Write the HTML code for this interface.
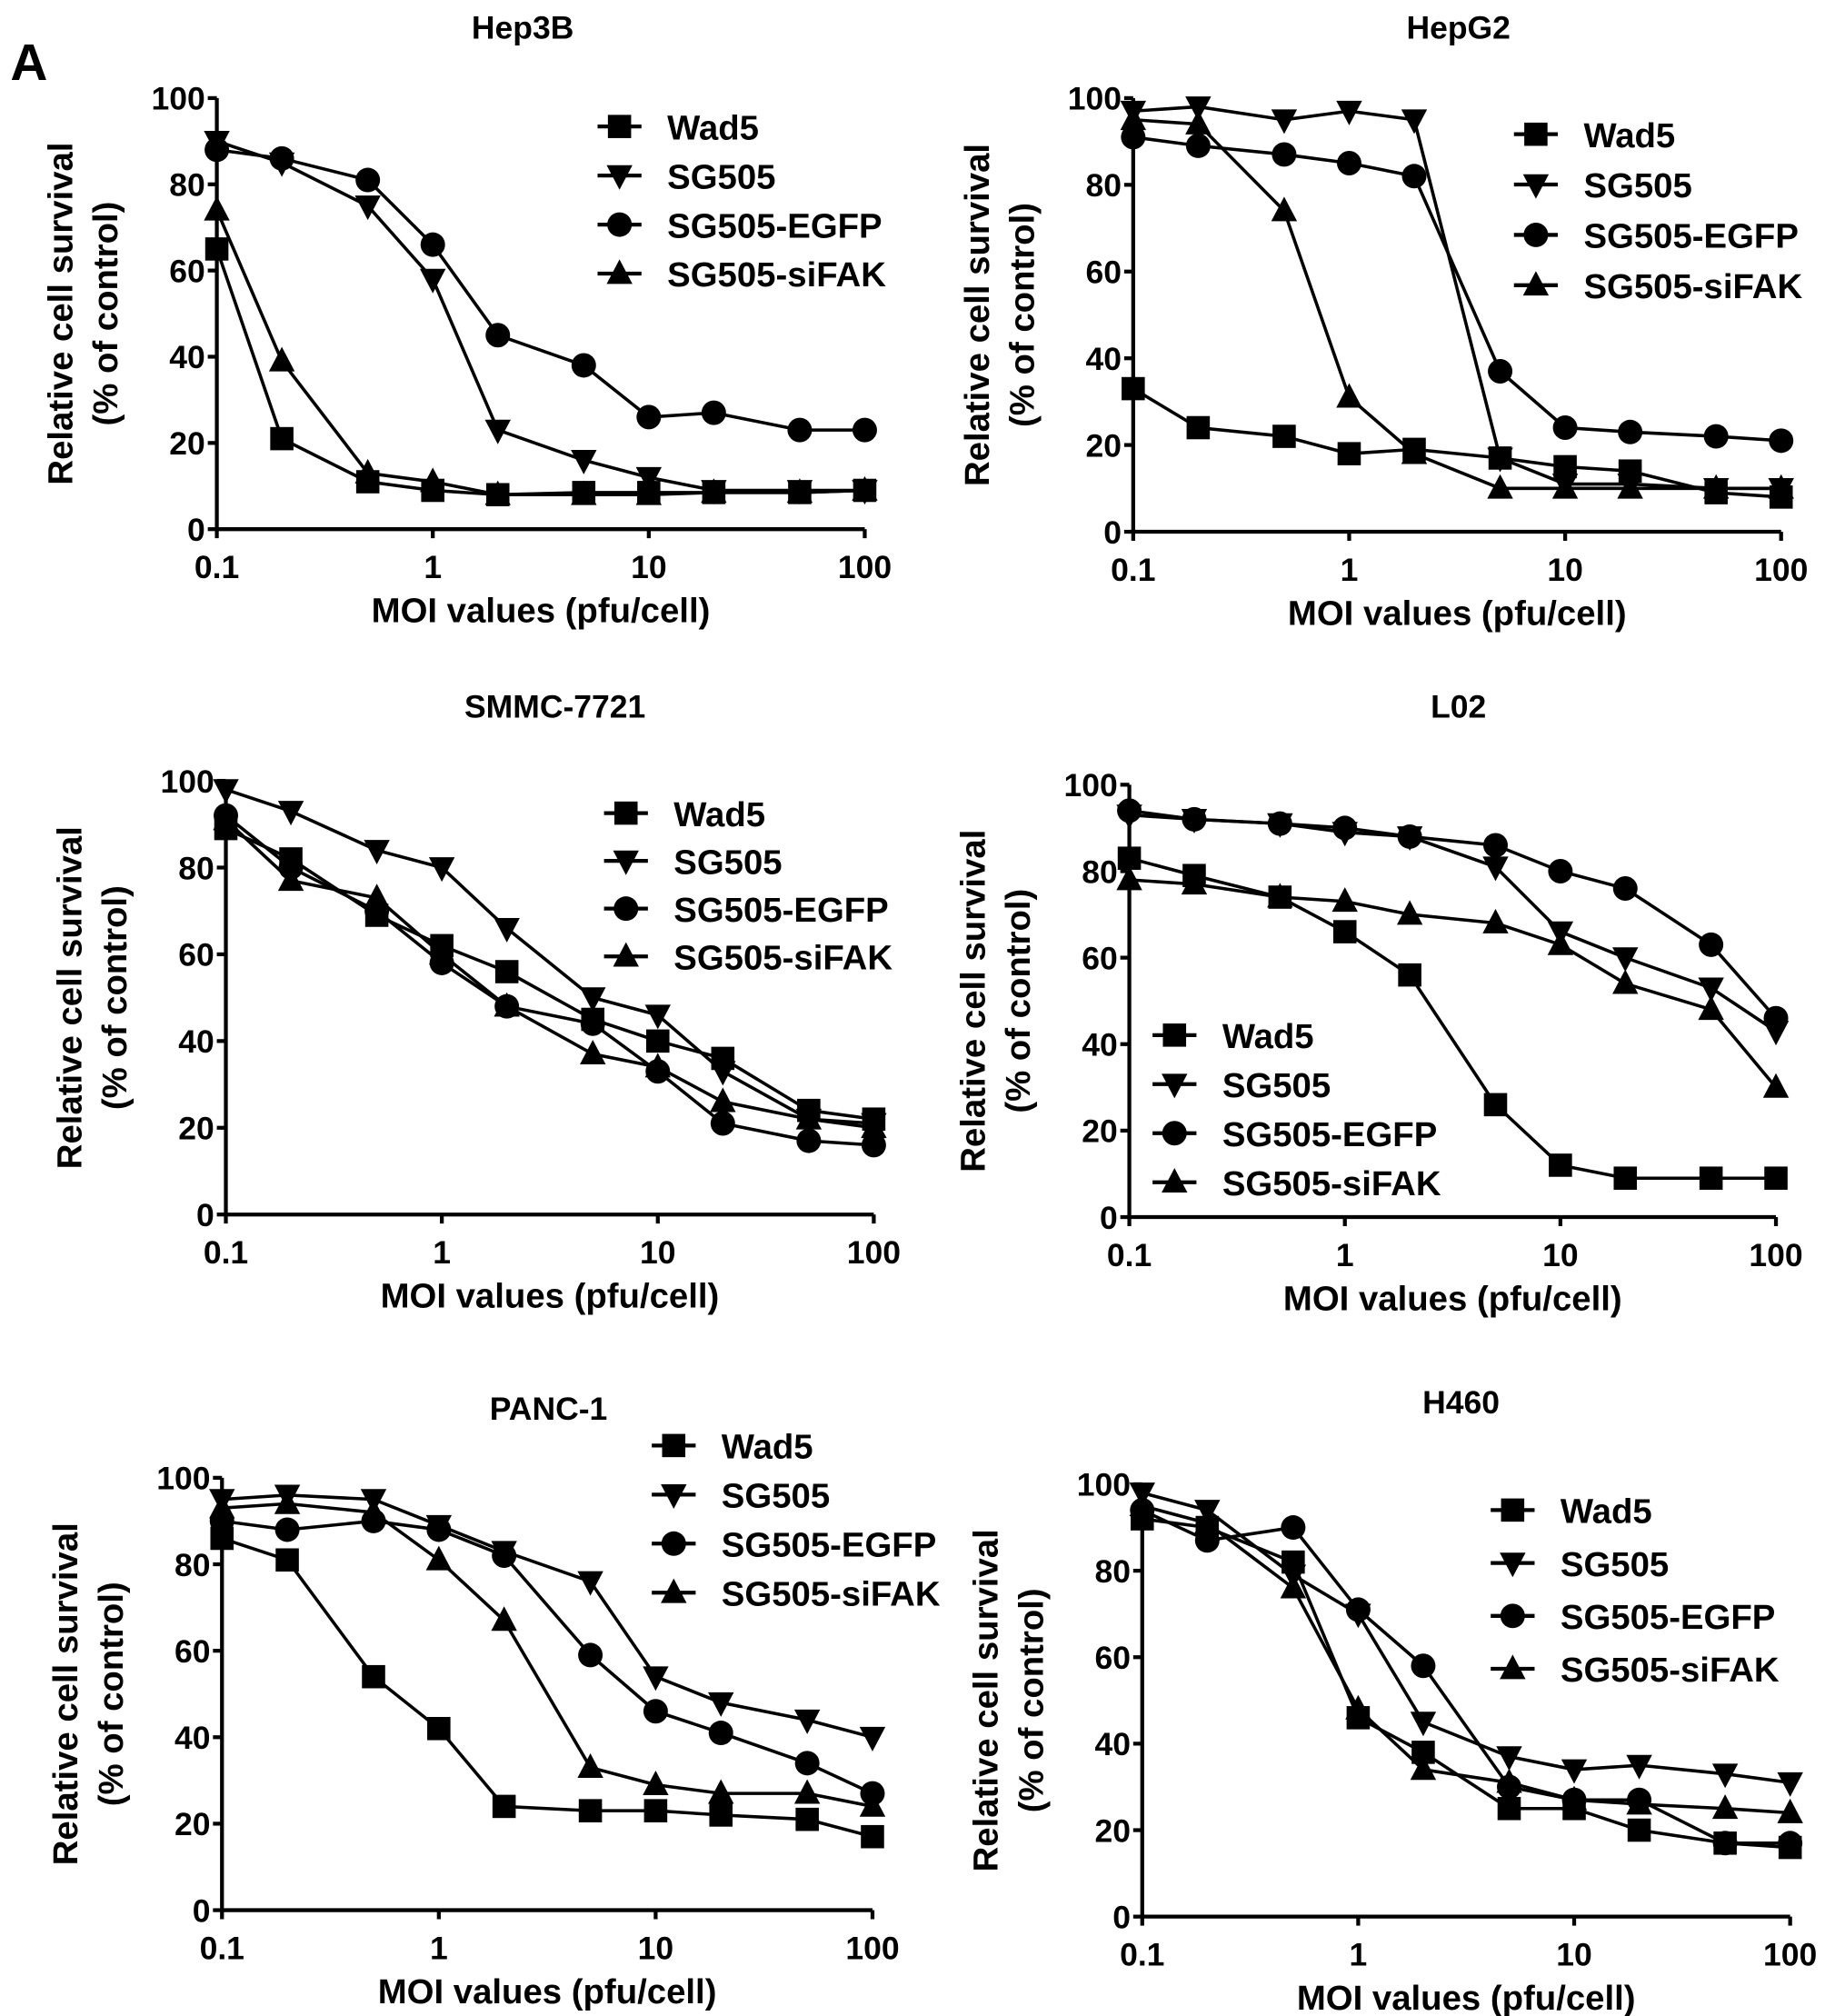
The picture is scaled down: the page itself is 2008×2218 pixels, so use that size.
<!DOCTYPE html>
<html><head><meta charset="utf-8"><style>
html,body{margin:0;padding:0;background:#fff}
svg{display:block}
text{font-family:"Liberation Sans",Arial,sans-serif;font-weight:bold;fill:#000}
</style></head><body>
<svg id="fig" width="2008" height="2218" viewBox="0 0 1414 1562" preserveAspectRatio="none" xmlns="http://www.w3.org/2000/svg">
<text x="8" y="62" font-size="40">A</text>
</svg>
<script>
const moi = [0.1,0.2,0.5,1,2,5,10,20,50,100];
const seriesNames = ["Wad5","SG505","SG505-EGFP","SG505-siFAK"];
const yTicks = [0,20,40,60,80,100];
const xTicks = [0.1,1,10,100];
const xTickLabels = ["0.1","1","10","100"];
const titles = ["Hep3B","HepG2","SMMC-7721","L02","PANC-1","H460"];

const hep3bWad5  = [65,21,11,9,8,8.5,8.5,8.5,8.5,9];
const hep3bSG505 = [90,85,75,58,23,16,12,9,9,9];
const hep3bEGFP  = [88,86,81,66,45,38,26,27,23,23];
const hep3bSiFAK = [74,39,13,11,8,8,8,8.5,8.5,9];

const hepg2Wad5  = [33,24,22,18,19,17,15,14,9,8];
const hepg2SG505 = [97,98,95,97,95,17,11,11,10,10];
const hepg2EGFP  = [91,89,87,85,82,37,24,23,22,21];
const hepg2SiFAK = [95,94,74,31,18,10,10,10,10,10];

const smmcWad5  = [89,82,69,62,56,45,40,36,24,22];
const smmcSG505 = [98,93,84,80,66,50,46,33,22,21];
const smmcEGFP  = [92,80,70,58,48,44,33,21,17,16];
const smmcSiFAK = [91,77,73,60,48,37,34,26,22,20];

const l02Wad5  = [83,79,74,66,56,26,12,9,9,9];
const l02SG505 = [93,92,91,89,88,81,66,60,53,43];
const l02EGFP  = [94,92,91,90,88,86,80,76,63,46];
const l02SiFAK = [78,77,74,73,70,68,63,54,48,30];

const pancWad5  = [86,81,54,42,24,23,23,22,21,17];
const pancSG505 = [95,96,95,89,83,76,54,48,44,40];
const pancEGFP  = [90,88,90,88,82,59,46,41,34,27];
const pancSiFAK = [93,94,92,81,67,33,29,27,27,24];

const h460Wad5  = [92,90,82,46,38,25,25,20,17,16];
const h460SG505 = [98,94,79,70,45,37,34,35,33,31];
const h460EGFP  = [94,87,90,71,58,30,27,27,17,17];
const h460SiFAK = [95,91,76,48,34,31,27,26,25,24];

const panelData = [
 [hep3bWad5,hep3bSG505,hep3bEGFP,hep3bSiFAK],
 [hepg2Wad5,hepg2SG505,hepg2EGFP,hepg2SiFAK],
 [smmcWad5,smmcSG505,smmcEGFP,smmcSiFAK],
 [l02Wad5,l02SG505,l02EGFP,l02SiFAK],
 [pancWad5,pancSG505,pancEGFP,pancSiFAK],
 [h460Wad5,h460SG505,h460EGFP,h460SiFAK]
];
const layout = [
 {x0:168,x1:670,y0:410,y1:76,title:[405,30],leg:[480,98,38]},
 {x0:878,x1:1380,y0:412,y1:76,title:[1130,30],leg:[1190,104,39]},
 {x0:175,x1:677,y0:941,y1:605,title:[430,556],leg:[485,630,37]},
 {x0:875,x1:1376,y0:943,y1:608,title:[1130,556],leg:[910,802,38]},
 {x0:172,x1:676,y0:1480,y1:1145,title:[425,1100],leg:[522,1120,38]},
 {x0:885,x1:1387,y0:1485,y1:1150,title:[1132,1095],leg:[1172,1170,41]}
];
const NS="http://www.w3.org/2000/svg";
const svg=document.getElementById('fig');
function mk(tag,attrs,parent){const e=document.createElementNS(NS,tag);for(const k in attrs)e.setAttribute(k,attrs[k]);(parent||svg).appendChild(e);return e;}
function marker(g,type,x,y){
  const s=9;let e;
  if(type===0){e=mk('rect',{x:x-s,y:y-s,width:2*s,height:2*s,fill:'#000'},g);}
  else if(type===1){e=mk('polygon',{points:`${x-s-1},${y-s+1} ${x+s+1},${y-s+1} ${x},${y+s+2}`,fill:'#000'},g);}
  else if(type===2){e=mk('circle',{cx:x,cy:y,r:s+0.5,fill:'#000'},g);}
  else {e=mk('polygon',{points:`${x-s-1},${y+s-1} ${x+s+1},${y+s-1} ${x},${y-s-2}`,fill:'#000'},g);}
  
  
  return e;
}
layout.forEach((L,pi)=>{
  const g=mk('g',{});
  
  
  const xs=v=>L.x0+(Math.log10(v)+1)/3*(L.x1-L.x0);
  const ys=v=>L.y0-(v/100)*(L.y0-L.y1);
  const t=mk('text',{x:L.title[0],y:L.title[1],'font-size':25,'text-anchor':'middle'},g);
  t.textContent=titles[pi];
  
  
  const ya=mk('line',{x1:L.x0,y1:L.y0,x2:L.x0,y2:L.y1,stroke:'#000','stroke-width':3},g);
  
  
  const xa=mk('line',{x1:L.x0,y1:L.y0,x2:L.x1,y2:L.y0,stroke:'#000','stroke-width':3},g);
  
  
  yTicks.forEach(v=>{
    mk('line',{x1:L.x0-7,y1:ys(v),x2:L.x0,y2:ys(v),stroke:'#000','stroke-width':3},g);
    const tl=mk('text',{x:L.x0-9,y:ys(v)+9,'font-size':25,'text-anchor':'end'},g);
    tl.textContent=v;
    
    
  });
  xTicks.forEach((v,i)=>{
    mk('line',{x1:xs(v),y1:L.y0,x2:xs(v),y2:L.y0+7,stroke:'#000','stroke-width':3},g);
    const tl=mk('text',{x:xs(v),y:L.y0+38,'font-size':25,'text-anchor':'middle'},g);
    tl.textContent=xTickLabels[i];
    
    
  });
  const xt=mk('text',{x:(L.x0+L.x1)/2,y:L.y0+72,'font-size':27,'text-anchor':'middle'},g);
  xt.textContent='MOI values (pfu/cell)';
  
  
  const ym=(L.y0+L.y1)/2, yx=L.x0-112;
  const yt=mk('text',{x:yx,y:ym,'font-size':27,'text-anchor':'middle',transform:`rotate(-90 ${yx} ${ym})`},g);
  yt.textContent='Relative cell survival';
  
  
  const yt2=mk('text',{x:yx+35,y:ym,'font-size':27,'text-anchor':'middle',transform:`rotate(-90 ${yx+35} ${ym})`},g);
  yt2.textContent='(% of control)';
  
  
  panelData[pi].forEach((vals,si)=>{
    const pts=vals.map((v,i)=>xs(moi[i])+','+ys(v)).join(' ');
    const pl=mk('polyline',{points:pts,fill:'none',stroke:'#000','stroke-width':2.5},g);
    
    
    vals.forEach((v,i)=>marker(g,si,xs(moi[i]),ys(v)));
  });
  seriesNames.forEach((n,si)=>{
    const ly=L.leg[1]+si*L.leg[2];
    mk('line',{x1:L.leg[0]-17,y1:ly,x2:L.leg[0]+17,y2:ly,stroke:'#000','stroke-width':3},g);
    marker(g,si,L.leg[0],ly);
    const lt=mk('text',{x:L.leg[0]+37,y:ly+10,'font-size':27},g);
    lt.textContent=n;
    
    
  });
});
</script>
</body></html>
